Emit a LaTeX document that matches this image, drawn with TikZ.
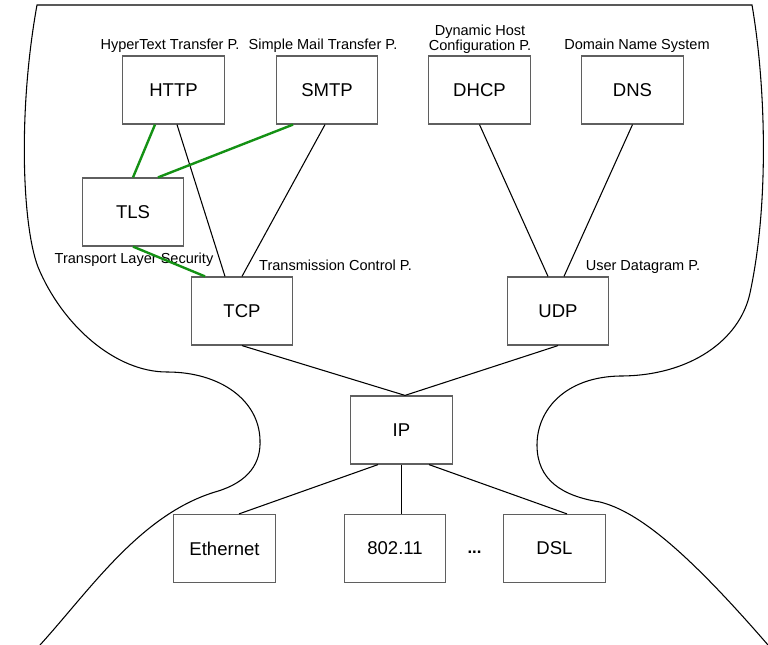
\documentclass[tikz,border=0pt]{standalone}
\usepackage{fontspec}
\setmainfont{Liberation Sans}
\usetikzlibrary{calc}
\definecolor{tlsgreen}{RGB}{20,145,20}
\definecolor{boxgray}{RGB}{95,95,95}
\begin{document}
\begin{tikzpicture}[x=0.75pt,y=-0.75pt,
  box/.style={draw=boxgray, line width=0.9pt, fill=white, minimum width=76pt, minimum height=51pt, inner sep=0pt, font=\fontsize{13.9}{16}\selectfont},
  lbl/.style={inner sep=0pt, anchor=base, font=\fontsize{10.9}{10}\selectfont},
  conn/.style={line width=0.8pt, draw=black},
  tlsconn/.style={line width=1.8pt, draw=tlsgreen},
  outline/.style={line width=0.8pt, draw=black}]
\useasboundingbox (0,0) rectangle (768,645);

% outline shape
\draw[outline] (40,645) .. controls (90,590) and (140,515) .. (215,492)
  .. controls (250,482) and (261,462) .. (260,440)
  .. controls (259,400) and (220,372) .. (167,372)
  .. controls (115,372) and (62,325) .. (38,267)
  .. controls (22,225) and (18,110) .. (37,5)
  -- (752,5)
  .. controls (765,80) and (770,200) .. (750,293)
  .. controls (740,340) and (690,376) .. (620,376)
  .. controls (565,377) and (537,410) .. (537,445)
  .. controls (537,480) and (562,496) .. (600,502)
  .. controls (640,512) and (690,555) .. (768,645);

% boxes
\node[box] (HTTP) at (173.5,90) {HTTP};
\node[box] (SMTP) at (327,90) {SMTP};
\node[box] (DHCP) at (479.5,90) {DHCP};
\node[box] (DNS) at (632.5,90) {DNS};
\node[box] (TLS) at (133,212) {TLS};
\node[box] (TCP) at (242,311) {TCP};
\node[box] (UDP) at (558,311) {UDP};
\node[box] (IP) at (401.5,430) {IP};
\node[box] (ETH) at (224.5,548.5) {Ethernet};
\node[box] (WLAN) at (395,548.5) {802.11};
\node[box] (DSL) at (554.5,548.5) {DSL};
\node[inner sep=0pt, anchor=base, font=\fontsize{12.5}{13}\selectfont\bfseries] (dots) at (474.5,553) {...};

% labels
\node[lbl] (httpl) at (170,50) {HyperText Transfer P.};
\node[lbl] (smtpl) at (323,50) {Simple Mail Transfer P.};
\node[lbl, anchor=south, align=center] (dhcpl) at (480,53.5) {Dynamic Host\\Configuration P.};
\node[lbl] (dnsl) at (637,50) {Domain Name System};
\node[lbl] (tlsl) at (134,263.5) {Transport Layer Security};
\node[lbl] (tcpl) at (335.5,271) {Transmission Control P.};
\node[lbl] (udpl) at (643,271) {User Datagram P.};

% black connectors
\draw[conn] ($(HTTP.south)+(3.5,0)$) -- ($(TCP.north)+(-17,0)$);
\draw[conn] ($(SMTP.south)+(-2,0)$) -- (TCP.north);
\draw[conn] (DHCP.south) -- ($(UDP.north)+(-10,0)$);
\draw[conn] (DNS.south) -- ($(UDP.north)+(6,0)$);
\draw[conn] (TCP.south) -- ($(IP.north)+(3.5,0)$);
\draw[conn] (UDP.south) -- ($(IP.north)+(3.5,0)$);
\draw[conn] ($(IP.south)+(-23.5,0)$) -- ($(ETH.north)+(14.5,0)$);
\draw[conn] ($(IP.south)+(0,0)$) -- ($(WLAN.north)+(6.5,0)$);
\draw[conn] ($(IP.south)+(27.5,0)$) -- ($(DSL.north)+(12.5,0)$);

% TLS connectors
\draw[tlsconn] ($(HTTP.south)+(-18.5,0)$) -- (TLS.north);
\draw[tlsconn] ($(SMTP.south)+(-34,0)$) -- ($(TLS.north)+(25,0)$);
\draw[tlsconn] (TLS.south) -- ($(TCP.north)+(-37,0)$);
\end{tikzpicture}
\end{document}
